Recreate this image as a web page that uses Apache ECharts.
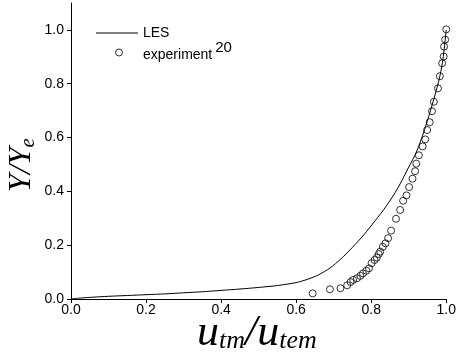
<!DOCTYPE html>
<html>
<head>
<meta charset="utf-8">
<script src="https://cdn.jsdelivr.net/npm/echarts@6/dist/echarts.min.js"></script>
<style>
html,body{margin:0;padding:0;background:#fff;}
#chart{width:459px;height:356px;}
</style>
</head>
<body>
<div id="chart"></div>
<script>
// LES profile (x = u_tm/u_tem, y = Y/Y_e)
const lesX = [0.0, 0.02, 0.05, 0.1, 0.15, 0.2, 0.25, 0.3, 0.35, 0.4, 0.45, 0.5, 0.55, 0.6, 0.63, 0.66, 0.69, 0.72, 0.75, 0.78, 0.81, 0.84, 0.87, 0.9, 0.92, 0.94, 0.96, 0.98, 0.99, 1.0];
const lesY = [0.0, 0.003, 0.006, 0.010, 0.013, 0.016, 0.019, 0.023, 0.027, 0.032, 0.037, 0.043, 0.050, 0.061, 0.073, 0.090, 0.115, 0.150, 0.192, 0.238, 0.290, 0.345, 0.410, 0.490, 0.545, 0.620, 0.710, 0.810, 0.880, 1.0];

// Experiment (ref. 20)
const expX = [0.644, 0.690, 0.718, 0.736, 0.745, 0.752, 0.762, 0.771, 0.778, 0.787, 0.794, 0.801, 0.809, 0.815, 0.820, 0.824, 0.831, 0.838, 0.845, 0.853, 0.866, 0.877, 0.885, 0.894, 0.901, 0.910, 0.917, 0.920, 0.927, 0.937, 0.944, 0.949, 0.956, 0.962, 0.967, 0.978, 0.983, 0.989, 0.993, 0.994, 0.997, 1.0];
const expY = [0.021, 0.036, 0.040, 0.051, 0.063, 0.071, 0.077, 0.086, 0.095, 0.105, 0.114, 0.133, 0.145, 0.154, 0.167, 0.176, 0.194, 0.207, 0.226, 0.254, 0.298, 0.331, 0.365, 0.385, 0.416, 0.447, 0.475, 0.503, 0.534, 0.567, 0.593, 0.628, 0.657, 0.698, 0.733, 0.783, 0.828, 0.876, 0.901, 0.938, 0.964, 1.002];

const xTicks = [0, 0.2, 0.4, 0.6, 0.8, 1.0];
const yTicks = [0, 0.2, 0.4, 0.6, 0.8, 1.0];
const xTickLabels = ['0.0', '0.2', '0.4', '0.6', '0.8', '1.0'];
const yTickLabels = ['0.0', '0.2', '0.4', '0.6', '0.8', '1.0'];

const lesData = lesX.map((x, i) => [x, lesY[i]]);
const expData = expX.map((x, i) => [x, expY[i]]);

const sans = '"Liberation Sans", Arial, Helvetica, sans-serif';
const serif = '"Liberation Serif", "Times New Roman", serif';

const chart = echarts.init(document.getElementById('chart'), null, {renderer: 'canvas'});
chart.setOption({
  animation: false,
  backgroundColor: '#ffffff',
  grid: {left: 71, right: 8, top: 3, bottom: 57, containLabel: false},
  xAxis: {
    type: 'value', min: 0, max: 1.0,
    axisLine: {show: true, onZero: false, lineStyle: {color: '#000', width: 1}},
    axisTick: {show: true, inside: false, length: 4, lineStyle: {color: '#000'}, customValues: xTicks},
    axisLabel: {show: true, margin: 4, color: '#000', fontFamily: sans, fontSize: 14,
      customValues: xTicks, formatter: v => xTickLabels[xTicks.findIndex(t => Math.abs(t - v) < 1e-9)]},
    splitLine: {show: false}
  },
  yAxis: {
    type: 'value', min: 0, max: 1.1,
    axisLine: {show: true, onZero: false, lineStyle: {color: '#000', width: 1}},
    axisTick: {show: true, inside: false, length: 4, lineStyle: {color: '#000'}, customValues: yTicks},
    axisLabel: {show: true, margin: 7, color: '#000', fontFamily: sans, fontSize: 14,
      customValues: yTicks, formatter: v => yTickLabels[yTicks.findIndex(t => Math.abs(t - v) < 1e-9)]},
    splitLine: {show: false}
  },
  legend: [
    {data: [{name: 'LES', icon: 'rect'}], orient: 'vertical', left: 96, top: 25, padding: 0, itemWidth: 42, itemHeight: 1, itemGap: 0,
      textStyle: {color: '#000', fontFamily: sans, fontSize: 14, lineHeight: 16}},
    {data: [{name: 'experiment', icon: 'circle'}], orient: 'vertical', left: 115, top: 40, padding: 0, itemWidth: 30, itemHeight: 7, itemGap: 0,
      itemStyle: {color: 'rgba(0,0,0,0)', borderColor: '#000', borderWidth: 1},
      formatter: n => '{a|experiment}{b|20}',
      textStyle: {color: '#000', fontFamily: sans, fontSize: 14,
        rich: {a: {fontSize: 14, fontFamily: sans, color: '#000', lineHeight: 16, padding: [5, 0, 0, 4]},
               b: {fontSize: 15, fontFamily: sans, color: '#000', lineHeight: 16, padding: [0, 0, 10, 3]}}}}
  ],
  series: [
    {name: 'LES', type: 'line', data: lesData, smooth: 0.25, showSymbol: false, symbol: 'none',
      lineStyle: {color: '#000', width: 1}, itemStyle: {color: '#000'}, z: 2},
    {name: 'experiment', type: 'scatter', data: expData, symbol: 'circle', symbolSize: 7,
      itemStyle: {color: 'rgba(0,0,0,0)', borderColor: '#000', borderWidth: 1}, z: 3}
  ],
  graphic: [
    {type: 'text', x: 22, y: 165, rotation: Math.PI / 2,
      style: {text: '{m|Y/Y}{s|e}', textAlign: 'center', textVerticalAlign: 'middle',
        rich: {m: {fontFamily: serif, fontStyle: 'italic', fontSize: 32, fill: '#000', lineHeight: 34},
               s: {fontFamily: serif, fontStyle: 'italic', fontSize: 21, fill: '#000', lineHeight: 34, padding: [12, 0, 0, 0]}}}},
    {type: 'text', x: 257, y: 333,
      style: {text: '{m|u}{s|tm}{m|/u}{s|tem}', textAlign: 'center', textVerticalAlign: 'middle',
        rich: {m: {fontFamily: serif, fontStyle: 'italic', fontSize: 44, fill: '#000', lineHeight: 44},
               s: {fontFamily: serif, fontStyle: 'italic', fontSize: 26, fill: '#000', lineHeight: 44, padding: [16, 0, 0, 0]}}}}
  ]
});
</script>
</body>
</html>
